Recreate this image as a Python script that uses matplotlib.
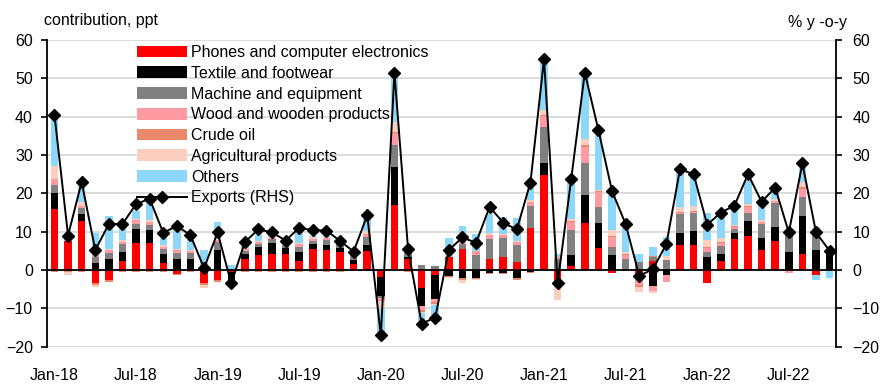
import numpy as np
import matplotlib
matplotlib.use("Agg")
import matplotlib.pyplot as plt
from matplotlib.patches import Patch
from matplotlib.lines import Line2D

plt.rcParams['font.family'] = ['Liberation Sans', 'DejaVu Sans']

# ---------------- data ----------------
tick_labels = ["Jan-18", "Jul-18", "Jan-19", "Jul-19", "Jan-20", "Jul-20",
               "Jan-21", "Jul-21", "Jan-22", "Jul-22"]

series_names = ["Phones and computer electronics", "Textile and footwear",
                "Machine and equipment", "Wood and wooden products",
                "Crude oil", "Agricultural products", "Others"]

phones = [16, 7.5, 12.8, -3.5, -2.6, 2.4, 7.1, 7.1, 1.9, -1.0, 0, -3.5,
          -2.6, -0.6, 3.0, 3.9, 4.3, 4.2, 2.4, 5.4, 5.2, 4.8, 1.7, 5.0,
          -1.7, 17, 3.0, -4.8, -1.3, 3.5, 5.4, 0, 3.0, 3.5, 2.0, 10.9,
          24.8, -3.0, 1.0, 12.3, 5.7, -0.9, 0, -1.3, 2.4, 0, 6.5, 6.5,
          -3.5, 2.4, 8.0, 9.0, 5.2, 7.7, 0, 4.3, -1.3, 0]
textile = [4, 0, 1.7, 1.8, 2.8, 2.4, 3.7, 3.3, 2.4, 2.8, 2.8, 0,
           5.2, -3.0, 1.3, 2.0, 2.8, 1.5, 2.4, 1.4, 1.4, 0.9, 0.9, 1.5,
           -5.2, 10, 0.3, -4.5, -6.3, -1.5, -2.2, -2.2, -0.7, -0.7, -2.2, -0.5,
           3.0, -1.0, 2.9, 7.4, 6.5, 3.9, 0, -0.5, -4.1, -1.3, 3.2, 3.7,
           3.3, 1.9, 1.7, 3.7, 3.2, 3.5, 4.8, 9.7, 5.2, 4.8]
machine = [2.2, 0, 1.6, 1.7, 1.7, 1.9, 1.3, 1.3, 1.3, 1.7, 1.6, 1.0,
           2.2, 0, 0.7, 0.9, 0.9, 0.6, 1.3, 0.9, 1.2, 1.3, 1.3, 2.0,
           -0.3, 5.7, 1.8, 1.3, 1.0, 0, 1.5, 3.9, 5.0, 4.8, 4.5, 5.9,
           9.4, 2.8, 6.5, 8.3, 4.3, 2.2, 3.0, 2.2, 1.0, 2.6, 5.0, 4.6,
           1.5, 1.9, 1.1, 2.3, 3.7, 6.4, 4.8, 5.0, 4.3, 0.8]
wood = [1.5, 0, 0.6, 0.5, 0.7, 0.7, 0.9, 0.8, 0.4, 0.8, 0.5, 0.3,
        0.4, 0, 0.4, 0.5, 0.4, 0.5, 0.6, 0.5, 0.5, 0.6, 0.4, 0.9,
        -0.5, 3.0, 0.4, -1.2, -0.8, 0, 0.5, 1.0, 1.1, 0.9, 0.9, 1.0,
        3.0, 0.6, 2.2, 4.2, 3.9, 2.6, 0.9, -2.2, -1.5, -1.7, 0.3, 0.3,
        0.9, 0.8, 0.3, 1.4, 0.3, 0.3, -0.7, 2.2, 0.4, 0.2]
crude = [-0.5, -0.5, -0.4, -0.5, -0.6, -0.6, -0.6, -0.5, -0.5, -0.3, -0.4, -0.4,
         -0.5, -0.4, -0.4, -0.4, -0.4, -0.4, -0.4, -0.4, -0.4, -0.4, -0.3, -0.3,
         -0.3, 0.3, -0.6, -0.5, -0.4, -0.3, -0.5, -0.2, -0.3, -0.4, -0.4, -0.3,
         0.2, -0.5, 0.2, 0.3, 0.2, 0.2, 0.2, -0.4, 0.2, 0, 0.2, 0.2,
         0.3, 0.2, 0.3, 0.3, 0.2, 0.2, 0, 0.5, 0.3, 0.1]
agri = [3.5, -0.8, 1.1, -0.5, 0.4, 0.4, 0.4, 0.5, 0.4, 0.3, 0.4, -0.9,
        0.3, -0.5, 0.3, 0.3, 0.2, 0.2, 0.3, 0.3, 0.3, 0.2, 0.2, 0.9,
        -1.8, 2.5, 0.2, -0.3, -0.3, -0.4, -0.6, -0.3, 0.6, 0.3, 0.3, 0.5,
        1.3, -3.2, 0.4, 1.7, 0.3, 1.5, 0.7, -1.3, -0.4, 1.0, 1.3, 1.3,
        1.9, 1.1, 0.3, 0.4, 0.4, 0.5, 0, 1.2, 1.0, 0.3]
others = [13.3, 0.8, 4.2, 5.6, 8.4, 3.7, 2.0, 5.2, 2.3, 6.4, 2.6, 4.0,
          4.5, 1.2, 2.1, 1.5, 0.6, 0.4, 2.6, 0.3, 0.2, 0.2, 1.2, 3.5,
          -7.2, 13, 0.3, -3.8, -4.0, 4.8, 4.2, 4.5, 4.8, 4.4, 5.8, 3.0,
          13.3, 0.8, 9.4, 17.3, 14.8, 9.2, 6.1, 2.1, 2.5, 5.1, 9.7, 8.4,
          7.1, 5.7, 4.2, 6.0, 4.2, 1.7, 0, 4.8, -1.3, -2.2]
exports = [40.5, 9, 23, 5.2, 12, 12, 17.2, 18.6, 9.7, 11.5, 9.1, 0.5,
           9.8, -3.5, 7.3, 10.6, 9.8, 7.7, 11, 10.4, 10.3, 7.6, 4.8, 14.3,
           -17, 51.5, 5.5, -14, -12.4, 5.2, 8.5, 7.1, 16.5, 12.3, 10.6, 22.8,
           55, -3.5, 23.8, 51.5, 36.5, 20.6, 12, -1.5, 0.2, 6.8, 26.3, 25,
           11.8, 15, 16.8, 25, 17.8, 21.5, 9.8, 27.8, 9.8, 5.0]

colors = ["#FF0000", "#000000", "#808080", "#FF9AA2", "#E9896A", "#FBCFC0", "#8DD8F8"]

# ---------------- plot ----------------
fig = plt.figure(figsize=(8.9, 3.92), dpi=100)
ax = fig.add_axes([46.7 / 890, 1 - 346.7 / 392, (836 - 46.7) / 890, (346.7 - 40) / 392])

n = len(exports)
x = np.arange(n)
pos_bottom = np.zeros(n)
neg_bottom = np.zeros(n)
for vals, col in zip([phones, textile, machine, wood, crude, agri, others], colors):
    v = np.array(vals, dtype=float)
    pos = np.where(v > 0, v, 0)
    neg = np.where(v < 0, v, 0)
    ax.bar(x, pos, bottom=pos_bottom, width=0.55, color=col, linewidth=0, zorder=2)
    ax.bar(x, neg, bottom=neg_bottom, width=0.55, color=col, linewidth=0, zorder=2)
    pos_bottom += pos
    neg_bottom += neg

ax.set_ylim(-20, 60)
ax.set_xlim(-0.57, n - 0.53)
ax.set_yticks(np.arange(-20, 61, 10))
ax.grid(axis='y', color='#D9D9D9', linewidth=1.3, zorder=0)
ax.set_axisbelow(True)
ax.axhline(0, color='black', linewidth=1.3, zorder=3)

for s in ['top', 'bottom', 'right']:
    ax.spines[s].set_visible(False)
ax.spines['left'].set_linewidth(1.3)
ax.tick_params(axis='y', direction='out', length=4, width=1.2, pad=6, labelsize=11.5)
ax.set_xticks(np.arange(0, n, 6))
ax.set_xticklabels(tick_labels)
ax.tick_params(axis='x', length=0, pad=15, labelsize=11.5)

ax2 = ax.twinx()
ax2.plot(x, exports, color='black', linewidth=1.4, marker='D', markersize=6,
         markerfacecolor='black', markeredgecolor='black', zorder=5)
ax2.set_ylim(-20, 60)
ax2.set_yticks(np.arange(-20, 61, 10))
for s in ['top', 'bottom', 'left']:
    ax2.spines[s].set_visible(False)
ax2.spines['right'].set_linewidth(1.3)
ax2.tick_params(axis='y', direction='out', length=4, width=1.2, pad=8, labelsize=11.5)

fig.text(44 / 890, 1 - 21 / 392, "contribution, ppt", fontsize=11.5, va='center', ha='left')
fig.text(847 / 890, 1 - 22 / 392, "% y -o-y", fontsize=11.5, va='center', ha='right')

handles = [Patch(facecolor=c, edgecolor='none') for c in colors]
handles.append(Line2D([0], [0], color='black', linewidth=1.4, marker='D', markersize=6))
labels = series_names + ["Exports (RHS)"]
leg = fig.legend(handles, labels, loc='upper left', bbox_to_anchor=(137 / 890, 1 - 45 / 392),
                 frameon=False, fontsize=11.5, handlelength=3.1, handleheight=0.75,
                 handletextpad=0.3, labelspacing=0.36, borderpad=0, borderaxespad=0)

fig.savefig("out.png", dpi=100)
